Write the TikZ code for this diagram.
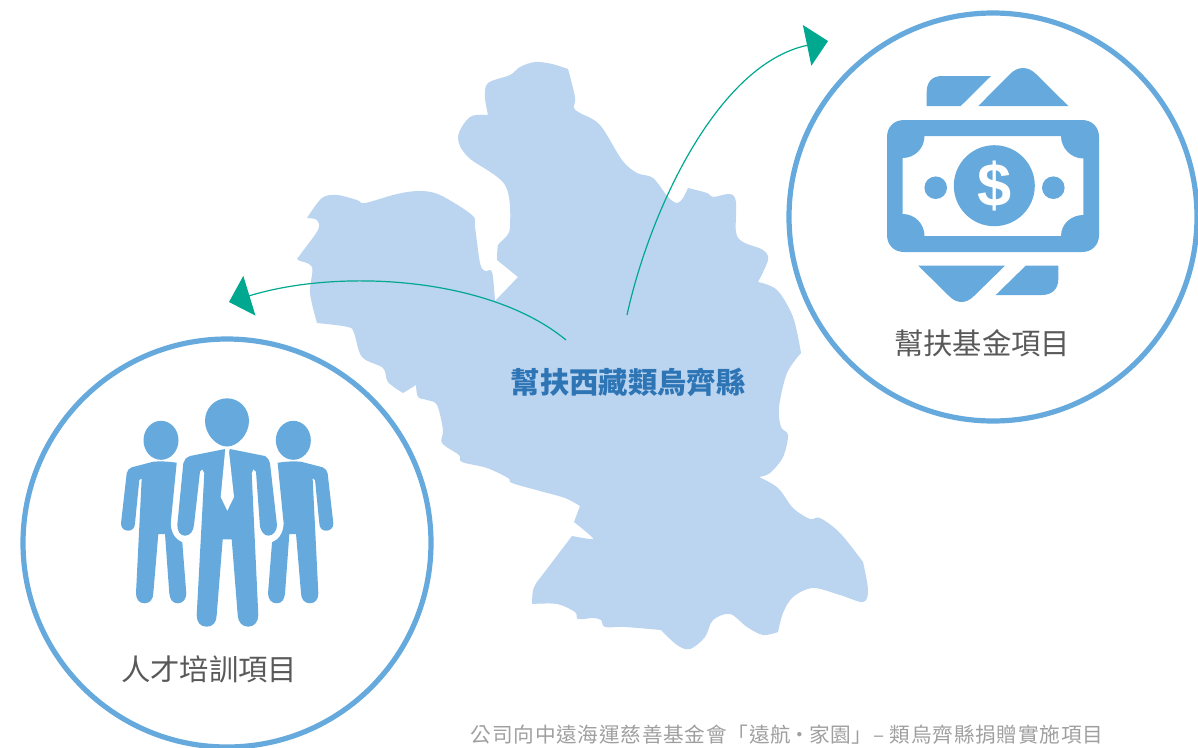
\documentclass[tikz,border=0pt]{standalone}
\usepackage{fontspec}
\newfontfamily\cjk{Noto Sans CJK TC}
\newfontfamily\cjkspaced[LetterSpace=3.6]{Noto Sans CJK TC}
\newfontfamily\dollarfont{Liberation Sans}
\usepackage{tikz}
\usetikzlibrary{arrows.meta}
\definecolor{ringblue}{HTML}{65A9DD}
\definecolor{mapblue}{HTML}{BBD4EF}
\definecolor{titleblue}{HTML}{2E75B6}
\definecolor{arrowteal}{HTML}{00A88F}
\definecolor{labelgrey}{HTML}{595959}
\definecolor{notegrey}{HTML}{9F9F9F}
\tikzset{
  ring/.style={draw=ringblue,line width=3.9pt},
  icon/.style={fill=ringblue},
  mapcurve/.style={smooth,tension=0.55},
  flow/.style={draw=arrowteal,line width=0.9pt,-{Triangle[length=16pt,width=31pt,fill=arrowteal]}},
  label/.style={text=labelgrey,font=\cjk\fontsize{22}{24}\selectfont,inner sep=0.75pt},
}
% one of the two side figures, the right one is its mirror image
\newcommand{\sidefigure}{
  \fill [icon] (176.7,462.7) .. controls (168,461.5) and (160,461) .. (153.3,461.7) -- (131.7,467.3) .. controls (129,468.5) and (127,470.5) .. (126.7,473.3) -- (121,523.3) .. controls (121,528) and (124,530.7) .. (128.3,530.7) .. controls (132,530.7) and (135,528) .. (135,523.3) -- (139.3,480) -- (141.7,478.3) -- (136,593.3) .. controls (136,599) and (139,603.3) .. (144.3,603.3) .. controls (150,603.3) and (153.3,599) .. (153.3,593.3) -- (158.3,534) -- (165,534) -- (169.3,593.3) .. controls (170,599) and (172,603.3) .. (177.7,603.3) .. controls (183,603.3) and (186.3,599) .. (186.3,593.3) -- (182.3,542.3) .. controls (177,540) and (171,535) .. (170.7,523.3) -- cycle ;
  \fill [icon] (161,440.3) ellipse (17.5 and 19.5) ;
}
\begin{document}
\begin{tikzpicture}[x=0.75pt,y=0.75pt,yscale=-1,xscale=1]
  \useasboundingbox (0,0) rectangle (1198,747);

  %Shape: Map
  \fill [mapblue] plot [mapcurve] coordinates {(488,115) (485,97) (488,83) (510,75) (520,67) (535,62) (552,64) (568,69)}
    -- plot [mapcurve] coordinates {(568,69) (575,97) (574,108) (580,113) (600,125) (622,160) (637,173) (653,178) (668,197) (677,203) (683,198) (688,188)}
    -- plot [mapcurve] coordinates {(688,188) (707,193) (713,197) (730,194) (736,202) (736,232) (743,242) (763,250) (768,260) (758,282)}
    -- plot [mapcurve] coordinates {(758,282) (777,290) (793,317) (801,353)}
    -- plot [mapcurve] coordinates {(801,353) (787,373) (779,407) (781,427) (788,435) (783,457) (770,473) (759,477)}
    -- plot [mapcurve] coordinates {(759,477) (778,488) (793,508) (810,519) (820,518) (840,533) (863,562)}
    -- plot [mapcurve] coordinates {(863,562) (868,590) (863,602) (840,595) (813,588) (793,597) (783,613) (778,632)}
    -- plot [mapcurve] coordinates {(778,632) (763,635) (747,627) (730,614) (713,620) (705,637) (690,649) (677,645) (661,630)}
    -- plot [mapcurve] coordinates {(661,630) (625,627) (605,627) (601,620) (593,618) (578,619) (575,612) (557,604) (532,604)}
    -- plot [mapcurve] coordinates {(532,604) (533,590) (537,582)}
    -- plot [mapcurve] coordinates {(572,536) (590,539) (592,537) (574,522)}
    -- plot [mapcurve] coordinates {(580,506) (565,498) (540,491) (512,483) (508,478) (487,468) (462,462) (459,455) (442,443) (443,430) (437,405) (427,400) (418,397) (416,385)}
    -- plot [mapcurve] coordinates {(403,393) (388,382) (383,368) (362,357) (354,333) (348,327) (317,323)}
    -- plot [mapcurve] coordinates {(317,323) (310,293) (312,267) (298,260) (300,255) (318,230) (317,220) (307,218)}
    -- plot [mapcurve] coordinates {(307,218) (322,198) (337,195) (357,200) (365,203) (397,194) (420,191) (440,195) (472,215) (475,227) (480,263) (485,271) (492,272) (495,301)}
    -- (518,277)
    -- plot [mapcurve] coordinates {(497,260) (498,245) (503,240) (510,227) (505,185) (468,157) (458,137) (470,117) (488,115)} -- cycle ;

  %Shape: Rings
  \draw [ring] (993,217) circle (204) ;
  \draw [ring] (227,543) circle (204) ;

  %Straight Lines: arrows out of the map
  \coordinate (fundstart) at (627,315);
  \coordinate (fundend) at (828,41);
  \coordinate (talentstart) at (566,340);
  \coordinate (talentend) at (229,302);
  \draw [flow] (fundstart) .. controls (650,210) and (718,64) .. (fundend) ;
  \draw [flow] (talentstart) .. controls (490,277) and (340,268) .. (talentend) ;

  %Shape: Banknote
  \fill [icon,even odd rule] (904,120) -- (1082,120) .. controls (1092,120) and (1099,127) .. (1099,137) -- (1099,235) .. controls (1099,245) and (1092,252) .. (1082,252) -- (904,252) .. controls (894,252) and (887,245) .. (887,235) -- (887,137) .. controls (887,127) and (894,120) .. (904,120) -- cycle
    (924.5,136) -- (1061,136) .. controls (1061,148) and (1071,158.5) .. (1083.3,158.5) -- (1083.3,215) .. controls (1071,215) and (1061,224) .. (1061,236) -- (924.5,236) .. controls (924.5,224) and (915,214) .. (902.7,214) -- (902.7,158) .. controls (915,158) and (924.5,148) .. (924.5,136) -- cycle ;
  \fill [icon] (994.3,185.7) circle (40.5) ;
  \fill [icon] (935.7,187.7) circle (11.3) ;
  \fill [icon] (1053.3,187.7) circle (11.3) ;
  \node (dollar) [text=white,font=\dollarfont\bfseries\fontsize{46}{46}\selectfont,inner sep=0pt] at (994.3,186) {\$};
  \fill [icon] (926.7,106) -- (926.7,92) .. controls (926.7,82) and (932,76) .. (942,76) -- (991,76) -- (960.7,106) -- cycle ;
  \fill [icon] (978.3,106) -- (1010,74) .. controls (1018,66) and (1028,66) .. (1036,74) -- (1068.3,106) -- cycle ;
  \fill [icon] (918.3,265.7) -- (1005,265.7) -- (974,296) .. controls (966,304) and (957,304) .. (949,296) -- cycle ;
  \fill [icon] (995.7,295) -- (1025.7,265.7) -- (1058.3,265.7) -- (1058.3,279) .. controls (1058.3,289) and (1052,295) .. (1042,295) -- cycle ;

  %Shape: People
  \sidefigure
  \begin{scope}[shift={(454.33,0)},xscale=-1]
    \sidefigure
  \end{scope}
  \fill [icon] (227,398.3) .. controls (239,398.3) and (249,408) .. (249,421) .. controls (249,434) and (238,446.5) .. (227,446.5) .. controls (216,446.5) and (205,434) .. (205,421) .. controls (205,408) and (215,398.3) .. (227,398.3) -- cycle ;
  \fill [icon] (225,449) -- (190,456) .. controls (186,457.5) and (184,460) .. (183.3,463.3) -- (177.3,525) .. controls (177.3,531) and (180,535.7) .. (185,535.7) .. controls (190,535.7) and (193.5,531) .. (194,525) -- (200,471.7) -- (202.3,469.3) -- (204.3,473.3) -- (196.7,615) .. controls (196.7,622) and (200,626.7) .. (206.7,626.7) .. controls (213,626.7) and (216.7,622) .. (216.7,615) -- (222.7,539.3) -- (231.7,539.3) -- (237.7,615) .. controls (238,622) and (242,626.7) .. (248.3,626.7) .. controls (254,626.7) and (258.3,622) .. (258.3,615) -- (251.7,473.3) -- (253.3,469.3) -- (256,471.7) -- (260,526.7) .. controls (261,531) and (264,535.7) .. (268.3,535.7) .. controls (273,535.7) and (277,531) .. (277,525) -- (270,463.3) .. controls (269,460) and (268,457.5) .. (265,456) -- (230,449) -- cycle ;
  \fill [white] (225,448) -- (230,448) -- (229,452) -- (234,497) -- (227.3,510.7) -- (220.7,497) -- (225,452) -- cycle ;

  % Text Node
  \node (maptitle) [text=titleblue,font=\cjk\bfseries\fontsize{22}{24}\selectfont,inner sep=0.75pt] at (628,382) {幫扶西藏類烏齊縣};
  % Text Node
  \node (fundlabel) [label] at (982,343) {幫扶基金項目};
  % Text Node
  \node (talentlabel) [label] at (209,669) {人才培訓項目};
  % Text Node
  \node (footnote) [text=notegrey,font=\cjkspaced\fontsize{15.5}{18}\selectfont,inner sep=0.75pt] at (787,735) {公司向中遠海運慈善基金會「遠航\hspace{-1pt}•\hspace{-1pt}家園」– 類烏齊縣捐贈實施項目};
\end{tikzpicture}
\end{document}
